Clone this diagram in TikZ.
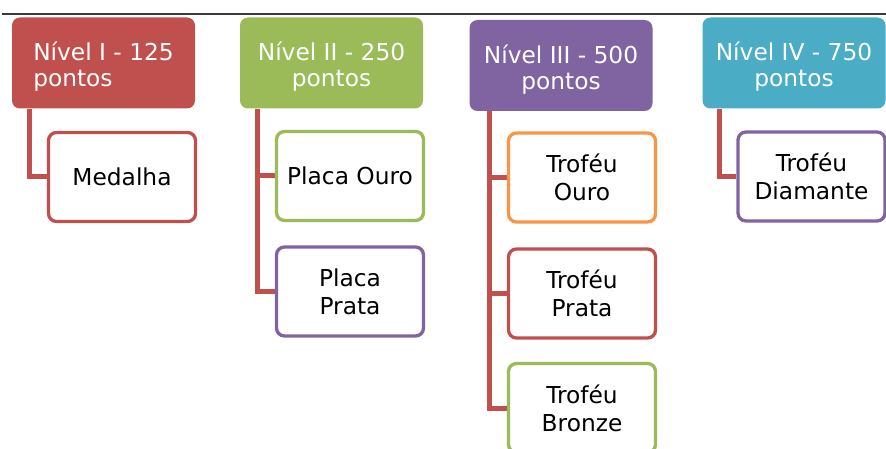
\documentclass[tikz,border=0pt]{standalone}
\usepackage{fontspec}
\setmainfont{DejaVu Sans}
\usetikzlibrary{backgrounds}
\definecolor{cred}{HTML}{C0504D}
\definecolor{cgreen}{HTML}{9BBB59}
\definecolor{cpurple}{HTML}{8064A2}
\definecolor{ccyan}{HTML}{4BACC6}
\definecolor{corange}{HTML}{F79646}
\definecolor{rulegray}{HTML}{3A3A3A}
\tikzset{
  head/.style={rounded corners=8pt, inner sep=0pt, minimum width=183pt, minimum height=91pt},
  headtext/.style={inner sep=0pt, text=white, align=center, font=\fontsize{23.3}{26}\selectfont},
  child/.style={rounded corners=8pt, fill=white, line width=3.3pt, inner sep=0pt,
    minimum width=147pt, minimum height=89pt, align=center,
    font=\fontsize{23.3}{28}\selectfont},
  conn/.style={draw=cred, line width=5pt, line join=miter},
  toprule/.style={draw=rulegray, line width=1.3pt}
}
\begin{document}
\begin{tikzpicture}[x=1pt,y=-1pt]
\useasboundingbox (0,0) rectangle (886,449);
\clip (0,0) rectangle (886,449);
\coordinate (rl) at (2,14);
\coordinate (rr) at (886,14);
\draw[toprule] (rl) -- (rr);

\node[head, fill=cred] (h1) at (103.5,63) {};
\node[head, fill=cgreen] (h2) at (331.5,63) {};
\node[head, fill=cpurple] (h3) at (561,65.5) {};
\node[head, fill=ccyan] (h4) at (794,63) {};
\node[headtext, align=left] (t1) at ([yshift=-4pt]h1.center) {Nível I - 125\\pontos};
\node[headtext] (t2) at ([yshift=-4pt]h2.center) {Nível II - 250\\pontos};
\node[headtext] (t3) at ([yshift=-4pt]h3.center) {Nível III - 500\\pontos};
\node[headtext] (t4) at ([yshift=-4pt]h4.center) {Nível IV - 750\\pontos};

\node[child, draw=cred] (c1) at (122,177) {Medalha};
\node[child, draw=cgreen] (c2) at (350,176) {Placa Ouro};
\node[child, draw=cpurple] (c3) at (350,291.5) {Placa\\Prata};
\node[child, draw=corange] (c4) at (582,177.5) {Troféu\\Ouro};
\node[child, draw=cred] (c5) at (582,293.5) {Troféu\\Prata};
\node[child, draw=cgreen] (c6) at (582,408) {Troféu\\Bronze};
\node[child, draw=cpurple] (c7) at (811.5,176.5) {Troféu\\Diamante};

\begin{scope}[on background layer]
\draw[conn] ([xshift=18pt]h1.south west) |- (c1.west);
\draw[conn] ([xshift=18pt]h2.south west) |- (c2.west);
\draw[conn] ([xshift=18pt]h2.south west) |- (c3.west);
\draw[conn] ([xshift=20pt]h3.south west) |- (c4.west);
\draw[conn] ([xshift=20pt]h3.south west) |- (c5.west);
\draw[conn] ([xshift=20pt]h3.south west) |- (c6.west);
\draw[conn] ([xshift=17pt]h4.south west) |- (c7.west);
\end{scope}
\end{tikzpicture}
\end{document}
